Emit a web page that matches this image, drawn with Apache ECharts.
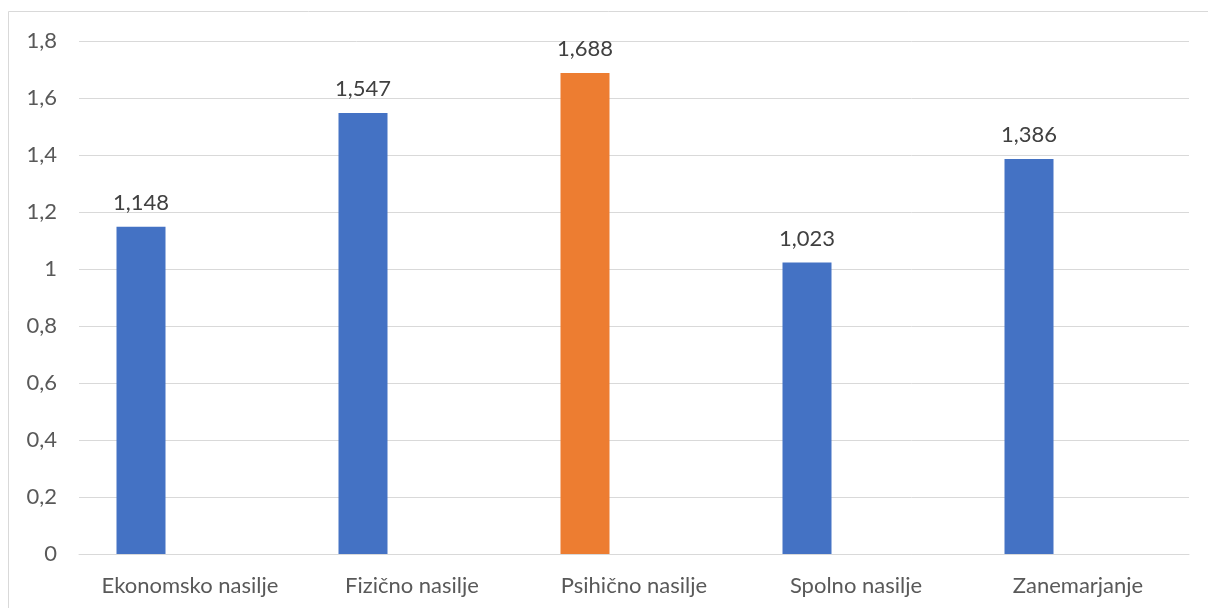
<!DOCTYPE html>
<html>
<head>
<meta charset="utf-8">
<script src="https://cdn.jsdelivr.net/npm/echarts@6/dist/echarts.min.js"></script>
<style>
html,body{margin:0;padding:0;background:#fff;}
#chart{width:1208px;height:608px;}
</style>
</head>
<body>
<div id="chart"></div>
<script>
// Types of violence and their mean scores
const categories = ['Ekonomsko nasilje', 'Fizično nasilje', 'Psihično nasilje', 'Spolno nasilje', 'Zanemarjanje'];
const values = [1.148, 1.547, 1.688, 1.023, 1.386];
const highlightIndex = 2;
const yTicks = [0, 0.2, 0.4, 0.6, 0.8, 1, 1.2, 1.4, 1.6, 1.8];

const BLUE = '#4472c4';
const ORANGE = '#ed7d31';
const FONT = 'Lato';
const FS = 22;

const fmt = v => String(v).replace('.', ',');

const chart = echarts.init(document.getElementById('chart'), null, { renderer: 'canvas' });
chart.setOption({
  animation: false,
  backgroundColor: '#fff',
  textStyle: { fontFamily: FONT },
  graphic: [{
    type: 'rect',
    shape: { x: 8.5, y: 11.5, width: 1220, height: 620 },
    style: { fill: 'none', stroke: '#d9d9d9', lineWidth: 1 },
    silent: true
  }],
  grid: { left: 79, right: 19, top: 41, bottom: 54 },
  xAxis: {
    type: 'category',
    data: categories,
    axisLine: { show: true, lineStyle: { color: '#d9d9d9', width: 1 } },
    axisTick: { show: false },
    axisLabel: {
      color: '#595959', fontSize: FS, fontFamily: FONT, margin: 21,
      interval: 0, hideOverlap: false
    }
  },
  yAxis: {
    type: 'value',
    min: yTicks[0],
    max: yTicks[yTicks.length - 1],
    interval: 0.2,
    axisLine: { show: false },
    axisTick: { show: false },
    splitLine: { lineStyle: { color: '#d9d9d9', width: 1 } },
    axisLabel: {
      color: '#595959', fontSize: FS, fontFamily: FONT, margin: 22,
      formatter: v => fmt(+v.toFixed(1))
    }
  },
  series: [
    {
      type: 'bar',
      barWidth: 49,
      barGap: '100%',
      data: values.map((v, i) => ({
        value: v,
        itemStyle: { color: i === highlightIndex ? ORANGE : BLUE }
      })),
      label: {
        show: true,
        position: 'top',
        distance: 13,
        color: '#404040',
        fontSize: FS,
        fontFamily: FONT,
        formatter: p => fmt(p.value)
      }
    },
    {
      // empty companion series keeps the bars in the left slot of each group
      type: 'bar',
      barWidth: 49,
      data: categories.map(() => null)
    }
  ]
});
</script>
</body>
</html>
